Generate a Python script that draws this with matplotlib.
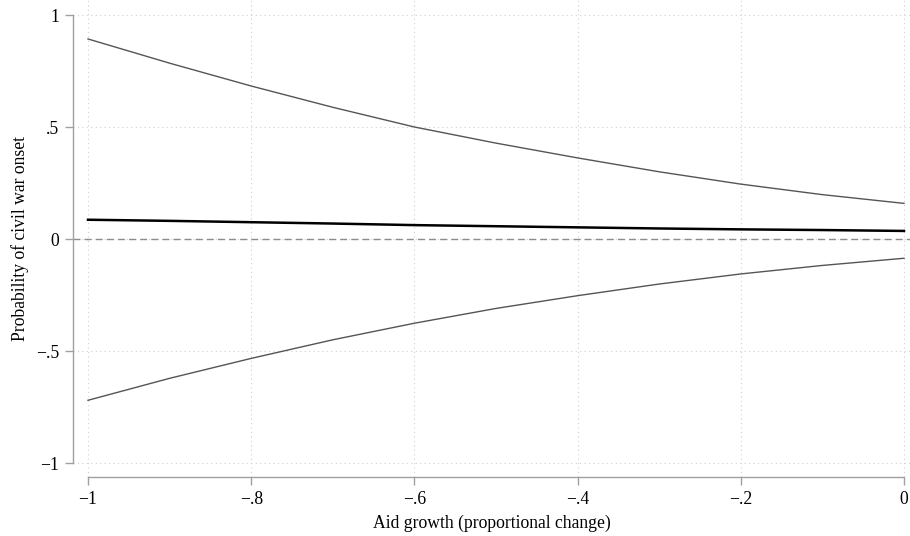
import matplotlib
matplotlib.use("Agg")
import matplotlib.pyplot as plt

# values
aid_growth = [-1.0, -0.9, -0.8, -0.7, -0.6, -0.5, -0.4, -0.3, -0.2, -0.1, 0.0]
prob_upper = [0.893, 0.785, 0.683, 0.588, 0.500, 0.428, 0.362, 0.300, 0.245, 0.198, 0.159]
prob_est = [0.086, 0.081, 0.075, 0.069, 0.062, 0.057, 0.052, 0.047, 0.043, 0.040, 0.036]
prob_lower = [-0.720, -0.622, -0.533, -0.450, -0.376, -0.310, -0.253, -0.201, -0.156, -0.118, -0.086]

x_ticks = [-1, -0.8, -0.6, -0.4, -0.2, 0]
x_tick_labels = ["\u22121", "\u2212.8", "\u2212.6", "\u2212.4", "\u2212.2", "0"]
y_ticks = [-1, -0.5, 0, 0.5, 1]
y_tick_labels = ["\u22121", "\u2212.5", "0", ".5", "1"]

plt.rcParams["font.family"] = ["Liberation Serif", "DejaVu Serif"]

W, H = 910, 536
fig = plt.figure(figsize=(W / 100, H / 100), dpi=100)
# axes box in pixels: left spine at 73, bottom spine at 477
left, right, top, bottom = 73, 910, 0, 477
ax = fig.add_axes([left / W, 1 - bottom / H, (right - left) / W, (bottom - top) / H])

ax.plot(aid_growth, prob_upper, color="#555555", lw=1.0)
ax.plot(aid_growth, prob_lower, color="#555555", lw=1.0)
ax.plot(aid_growth, prob_est, color="black", lw=1.8)
ax.axhline(0, color="#8c8c8c", lw=1.0, ls=(0, (5, 3)))

# px -> data: x 816 px/unit, y 224 px/unit
ax.set_xlim(-1 - 15 / 816, 0 + 6 / 816)
ax.set_ylim(-1 - 14 / 224, 1 + 15 / 224)

ax.set_xticks(x_ticks)
ax.set_xticklabels(x_tick_labels)
ax.set_yticks(y_ticks)
ax.set_yticklabels(y_tick_labels)

ax.grid(True, color="#d0d0d0", lw=0.8, ls=(0, (1, 3)))
for side in ["top", "right"]:
    ax.spines[side].set_visible(False)
for side in ["left", "bottom"]:
    ax.spines[side].set_color("#a0a0a0")
    ax.spines[side].set_linewidth(1.0)
ax.spines["left"].set_bounds(-1, 1)
ax.spines["bottom"].set_bounds(-1, 0)
ax.tick_params(axis="both", direction="out", length=6, width=1.0,
               color="#a0a0a0", labelsize=12.7, pad=4)

ax.set_xlabel("Aid growth (proportional change)", fontsize=12.7, labelpad=5)
ax.set_ylabel("Probability of civil war onset", fontsize=12.7, labelpad=5)

fig.savefig("out.png", dpi=100)
plt.close(fig)
